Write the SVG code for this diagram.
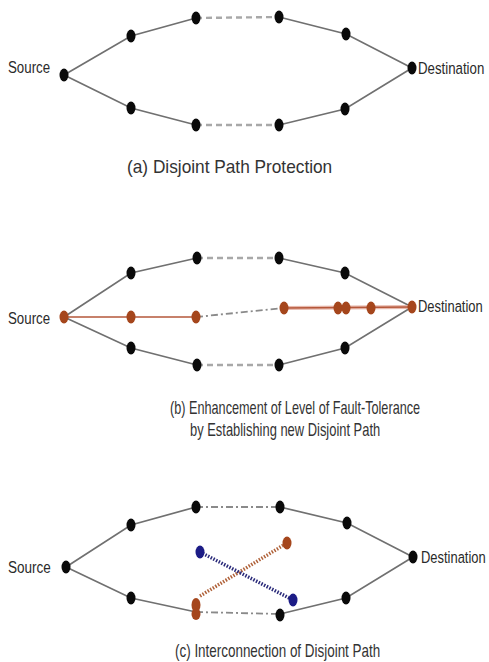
<svg xmlns="http://www.w3.org/2000/svg" width="489" height="662" viewBox="0 0 489 662">
<style>
.bg{fill:#fff}
.ln{stroke:#707070;stroke-width:1.7;fill:none}
.dsh{stroke:#a8a8a8;stroke-width:2.4;stroke-dasharray:6 4;fill:none}
.dd{stroke:#8a8a8a;stroke-width:1.8;stroke-dasharray:7 3 2 3;fill:none}
.br{stroke:#b5573a;stroke-width:1.5;fill:none}
.brt{stroke:#e7b9ad;stroke-width:4;fill:none}
.bdot{stroke:#b0623a;stroke-width:3.5;stroke-dasharray:1.5 1.5;fill:none}
.udot{stroke:#2a2a7a;stroke-width:3.5;stroke-dasharray:1.5 1.5;fill:none}
.k{fill:#0a0a0a}
.o{fill:#a5461c}
.b{fill:#1c1c86}
text{font-family:"Liberation Sans",Arial,sans-serif;fill:#2a2a2a;font-size:17px}
.cap{font-size:18px;fill:#333}
</style>
<rect class="bg" width="489" height="662"/>
<g id="connectors">
<polyline class="ln" points="64,75 131,36 196,18"/>
<line class="dsh" x1="196" y1="18" x2="279" y2="17"/>
<polyline class="ln" points="279,17 346,34 412,68"/>
<polyline class="ln" points="64,75 131,108 196,125"/>
<line class="dsh" x1="196" y1="125" x2="279" y2="125"/>
<polyline class="ln" points="279,125 345,109 412,68"/>
<polyline class="ln" points="64,317 131,273 197,258"/>
<line class="dsh" x1="197" y1="258" x2="279" y2="258"/>
<polyline class="ln" points="279,258 345,273 412,307"/>
<polyline class="ln" points="64,317 131,348 197,365"/>
<line class="dsh" x1="197" y1="365" x2="279" y2="365"/>
<polyline class="ln" points="279,365 345,348 412,307"/>
<line class="br" x1="64" y1="317" x2="196" y2="317"/>
<line class="dd" x1="196" y1="317" x2="284" y2="308"/>
<line class="brt" x1="284" y1="308" x2="412" y2="307"/>
<line class="br" x1="284" y1="308" x2="412" y2="307"/>
<polyline class="ln" points="66,567 131,525 196,507"/>
<line class="dd" x1="196" y1="507" x2="280" y2="507"/>
<polyline class="ln" points="280,507 347,523 413,557"/>
<polyline class="ln" points="66,567 131,598 196,612"/>
<line class="dd" x1="196" y1="612" x2="280" y2="614"/>
<polyline class="ln" points="280,614 346,598 413,557"/>
<line class="bdot" x1="200" y1="596" x2="287" y2="543"/>
<line class="udot" x1="200" y1="552" x2="293" y2="600"/>
</g>
<g id="a-src"><ellipse class="k" cx="64" cy="75" rx="4.5" ry="6.5"/><text transform="translate(8,73) scale(0.78,1)" textLength="54" lengthAdjust="spacingAndGlyphs">Source</text></g>
<g id="a-u1"><ellipse class="k" cx="131" cy="36" rx="4.5" ry="6.5"/></g>
<g id="a-u2"><ellipse class="k" cx="196" cy="18" rx="4.5" ry="6.5"/></g>
<g id="a-u3"><ellipse class="k" cx="279" cy="17" rx="4.5" ry="6.5"/></g>
<g id="a-u4"><ellipse class="k" cx="346" cy="34" rx="4.5" ry="6.5"/></g>
<g id="a-dst"><ellipse class="k" cx="412" cy="68" rx="4.5" ry="6.5"/><text transform="translate(418,74) scale(0.78,1)" textLength="85" lengthAdjust="spacingAndGlyphs">Destination</text></g>
<g id="a-l1"><ellipse class="k" cx="131" cy="108" rx="4.5" ry="6.5"/></g>
<g id="a-l2"><ellipse class="k" cx="196" cy="125" rx="4.5" ry="6.5"/></g>
<g id="a-l3"><ellipse class="k" cx="279" cy="125" rx="4.5" ry="6.5"/></g>
<g id="a-l4"><ellipse class="k" cx="345" cy="109" rx="4.5" ry="6.5"/></g>
<g id="a-cap"><text class="cap" transform="translate(127,173) scale(0.9,1)" textLength="228" lengthAdjust="spacingAndGlyphs">(a) Disjoint Path Protection</text></g>
<g id="b-src"><ellipse class="o" cx="64" cy="317" rx="4.5" ry="6.5"/><text transform="translate(8,324) scale(0.78,1)" textLength="54" lengthAdjust="spacingAndGlyphs">Source</text></g>
<g id="b-u1"><ellipse class="k" cx="131" cy="273" rx="4.5" ry="6.5"/></g>
<g id="b-u2"><ellipse class="k" cx="197" cy="258" rx="4.5" ry="6.5"/></g>
<g id="b-u3"><ellipse class="k" cx="279" cy="258" rx="4.5" ry="6.5"/></g>
<g id="b-u4"><ellipse class="k" cx="345" cy="273" rx="4.5" ry="6.5"/></g>
<g id="b-dst"><ellipse class="o" cx="412" cy="307" rx="4.5" ry="6.5"/><text transform="translate(418,312) scale(0.78,1)" textLength="83" lengthAdjust="spacingAndGlyphs">Destination</text></g>
<g id="b-m1"><ellipse class="o" cx="131" cy="317" rx="4.5" ry="6.5"/></g>
<g id="b-m2"><ellipse class="o" cx="196" cy="317" rx="4.5" ry="6.5"/></g>
<g id="b-m3"><ellipse class="o" cx="284" cy="308" rx="4.5" ry="6.5"/></g>
<g id="b-m4"><ellipse class="o" cx="338" cy="308" rx="4.5" ry="6.5"/></g>
<g id="b-m5"><ellipse class="o" cx="346" cy="308" rx="4.5" ry="6.5"/></g>
<g id="b-m6"><ellipse class="o" cx="371" cy="308" rx="4.5" ry="6.5"/></g>
<g id="b-l1"><ellipse class="k" cx="131" cy="348" rx="4.5" ry="6.5"/></g>
<g id="b-l2"><ellipse class="k" cx="197" cy="365" rx="4.5" ry="6.5"/></g>
<g id="b-l3"><ellipse class="k" cx="279" cy="365" rx="4.5" ry="6.5"/></g>
<g id="b-l4"><ellipse class="k" cx="345" cy="348" rx="4.5" ry="6.5"/></g>
<g id="b-cap"><text class="cap" transform="translate(170,414) scale(0.74,1)" textLength="338" lengthAdjust="spacingAndGlyphs">(b) Enhancement of Level of Fault-Tolerance</text><text class="cap" transform="translate(190,436) scale(0.74,1)" textLength="257" lengthAdjust="spacingAndGlyphs">by Establishing new Disjoint Path</text></g>
<g id="c-src"><ellipse class="k" cx="66" cy="567" rx="4.5" ry="6.5"/><text transform="translate(8,573) scale(0.78,1)" textLength="55" lengthAdjust="spacingAndGlyphs">Source</text></g>
<g id="c-u1"><ellipse class="k" cx="131" cy="525" rx="4.5" ry="6.5"/></g>
<g id="c-u2"><ellipse class="k" cx="196" cy="507" rx="4.5" ry="6.5"/></g>
<g id="c-u3"><ellipse class="k" cx="280" cy="507" rx="4.5" ry="6.5"/></g>
<g id="c-u4"><ellipse class="k" cx="347" cy="523" rx="4.5" ry="6.5"/></g>
<g id="c-dst"><ellipse class="k" cx="413" cy="557" rx="4.5" ry="6.5"/><text transform="translate(421,563) scale(0.78,1)" textLength="83" lengthAdjust="spacingAndGlyphs">Destination</text></g>
<g id="c-l1"><ellipse class="k" cx="131" cy="598" rx="4.5" ry="6.5"/></g>
<g id="c-l2"><ellipse class="o" cx="196" cy="605" rx="4.5" ry="7"/><ellipse class="o" cx="196" cy="614" rx="4.5" ry="6"/></g>
<g id="c-l3"><ellipse class="k" cx="280" cy="615" rx="4.5" ry="6.5"/></g>
<g id="c-l4"><ellipse class="k" cx="346" cy="598" rx="4.5" ry="6.5"/></g>
<g id="c-x1"><ellipse class="b" cx="200" cy="552" rx="4.5" ry="6.5"/></g>
<g id="c-x2"><ellipse class="b" cx="293" cy="600" rx="4.5" ry="6.5"/></g>
<g id="c-x3"><ellipse class="o" cx="287" cy="543" rx="4.5" ry="6.5"/></g>
<g id="c-cap"><text class="cap" transform="translate(175,657) scale(0.76,1)" textLength="270" lengthAdjust="spacingAndGlyphs">(c) Interconnection of Disjoint Path</text></g>
</svg>
